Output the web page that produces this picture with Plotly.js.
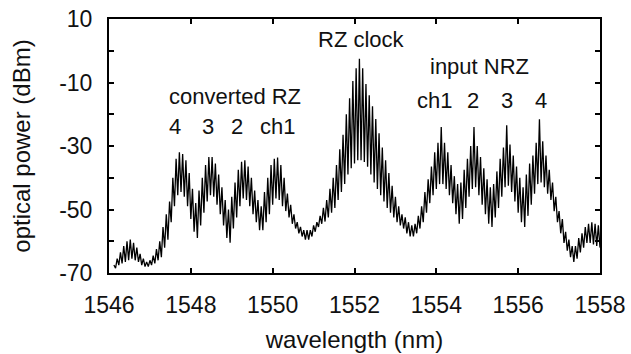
<!DOCTYPE html>
<html>
<head>
<meta charset="utf-8">
<script src="https://cdn.plot.ly/plotly-3.0.1.min.js"></script>
<style>html,body{margin:0;padding:0;background:#fff;}#chart{width:631px;height:354px;}</style>
</head>
<body>
<div id="chart"></div>
<script>
// Comb line (peak) wavelengths in nm
const peakNm = [
1546.12,1546.20,1546.28,1546.36,1546.44,1546.52,1546.60,1546.68,1546.76,1546.84,
1546.92,1547.00,1547.08,1547.16,1547.24,1547.32,1547.40,1547.48,1547.56,1547.64,
1547.72,1547.80,1547.88,1547.96,1548.04,1548.12,1548.20,1548.28,1548.36,1548.44,
1548.52,1548.60,1548.68,1548.76,1548.84,1548.92,1549.00,1549.08,1549.16,1549.24,
1549.32,1549.40,1549.48,1549.56,1549.64,1549.72,1549.80,1549.88,1549.96,1550.04,
1550.12,1550.20,1550.28,1550.36,1550.44,1550.52,1550.60,1550.68,1550.76,1550.84,
1550.92,1551.00,1551.08,1551.16,1551.24,1551.32,1551.40,1551.48,1551.56,1551.64,
1551.72,1551.80,1551.88,1551.96,1552.04,1552.12,1552.20,1552.28,1552.36,1552.44,
1552.52,1552.60,1552.68,1552.76,1552.84,1552.92,1553.00,1553.08,1553.16,1553.24,
1553.32,1553.40,1553.48,1553.56,1553.64,1553.72,1553.80,1553.88,1553.96,1554.04,
1554.12,1554.20,1554.28,1554.36,1554.44,1554.52,1554.60,1554.68,1554.76,1554.84,
1554.92,1555.00,1555.08,1555.16,1555.24,1555.32,1555.40,1555.48,1555.56,1555.64,
1555.72,1555.80,1555.88,1555.96,1556.04,1556.12,1556.20,1556.28,1556.36,1556.44,
1556.52,1556.60,1556.68,1556.76,1556.84,1556.92,1557.00,1557.08,1557.16,1557.24,
1557.32,1557.40,1557.48,1557.56,1557.64,1557.72,1557.80,1557.88,1557.96];

// Power at each comb line (dBm)
const peakDbm = [
-67.5,-65.5,-63.5,-61.5,-60,-59.5,-60.5,-62,-64,-65.5,
-66.5,-66,-64.5,-62.5,-60,-55.5,-51.5,-47.5,-40,-34,
-32,-32.5,-34.5,-38.5,-43.5,-48,-44,-40,-36,-33.5,
-33.5,-35.5,-39,-43,-47,-50,-46,-41.5,-37.5,-35,
-34.5,-36.5,-40,-44,-47,-49,-44.5,-40,-36,-34,
-33.6,-36,-40,-45,-48.5,-51.5,-54,-55.5,-56.5,-56.5,
-56.5,-55,-54,-52,-49.5,-47,-43.5,-40,-36,-31,
-26.5,-20,-15,-9.5,-5.5,-2.5,-5.5,-10.5,-14,-17.5,
-21.5,-26,-30.5,-34.5,-38.5,-42.5,-46,-49,-51.5,-52.5,
-54,-55,-54.5,-52,-49,-44.5,-40.5,-36.5,-32,-29,
-24,-29,-32,-36,-39.5,-42,-41.5,-37.5,-34,-30,
-24,-30,-33.5,-37,-40.5,-43,-42,-38,-34,-30.5,
-23.5,-29.5,-33,-36.5,-40,-43,-39,-35.5,-33,-29,
-21.6,-28.5,-33,-37.5,-41.5,-46,-50.5,-53,-57,-59.5,
-61.5,-61.5,-59,-57.5,-55.5,-54.5,-54,-54.5,-55];

// Wavelengths of the dips between comb lines (nm)
const dipNm = [
1546.16,1546.24,1546.32,1546.40,1546.48,1546.56,1546.64,1546.72,1546.80,1546.88,
1546.96,1547.04,1547.12,1547.20,1547.28,1547.36,1547.44,1547.52,1547.60,1547.68,
1547.76,1547.84,1547.92,1548.00,1548.08,1548.16,1548.24,1548.32,1548.40,1548.48,
1548.56,1548.64,1548.72,1548.80,1548.88,1548.96,1549.04,1549.12,1549.20,1549.28,
1549.36,1549.44,1549.52,1549.60,1549.68,1549.76,1549.84,1549.92,1550.00,1550.08,
1550.16,1550.24,1550.32,1550.40,1550.48,1550.56,1550.64,1550.72,1550.80,1550.88,
1550.96,1551.04,1551.12,1551.20,1551.28,1551.36,1551.44,1551.52,1551.60,1551.68,
1551.76,1551.84,1551.92,1552.00,1552.08,1552.16,1552.24,1552.32,1552.40,1552.48,
1552.56,1552.64,1552.72,1552.80,1552.88,1552.96,1553.04,1553.12,1553.20,1553.28,
1553.36,1553.44,1553.52,1553.60,1553.68,1553.76,1553.84,1553.92,1554.00,1554.08,
1554.16,1554.24,1554.32,1554.40,1554.48,1554.56,1554.64,1554.72,1554.80,1554.88,
1554.96,1555.04,1555.12,1555.20,1555.28,1555.36,1555.44,1555.52,1555.60,1555.68,
1555.76,1555.84,1555.92,1556.00,1556.08,1556.16,1556.24,1556.32,1556.40,1556.48,
1556.56,1556.64,1556.72,1556.80,1556.88,1556.96,1557.04,1557.12,1557.20,1557.28,
1557.36,1557.44,1557.52,1557.60,1557.68,1557.76,1557.84,1557.92,1558.00];

// Power at each dip (dBm)
const dipDbm = [
-68.5,-67.5,-67,-66.5,-66,-65.5,-66,-66.5,-67.5,-68,
-68,-67.5,-67,-66,-65,-62,-59.5,-54,-49,-45.5,
-44.5,-46,-49,-53,-57,-59,-55,-51,-47.5,-45.5,
-46,-48.5,-51.5,-55,-59,-60.5,-56,-52.5,-49,-46.5,
-47,-49,-51.5,-54,-56.5,-56.5,-54,-51.5,-48.5,-46.5,
-47,-49,-50.5,-52.5,-54.5,-56,-57.5,-58.5,-59.5,-59.5,
-58.5,-57,-55.5,-54.5,-53.8,-52.5,-51,-49.5,-47,-44.5,
-42,-39,-37,-35.5,-34.5,-34.5,-35,-36.5,-39,-41.5,
-43.5,-45.5,-47.5,-49.5,-51,-52.5,-54,-55,-56,-57.5,
-58.5,-58.5,-57.5,-56,-54,-51,-48,-45.5,-43.5,-42,
-42,-43.5,-45.5,-48,-51.5,-54.5,-53,-49.5,-46,-43.5,
-43,-45.5,-48.5,-51.5,-54.5,-55.5,-52.5,-49.5,-46,-43,
-42.5,-44.5,-47.5,-51,-54,-55.5,-52,-48.5,-45,-42,
-41.5,-43,-45,-47,-50.5,-54,-57.5,-60.5,-63,-65,
-66.5,-65.5,-63.5,-62,-60.5,-60.5,-61,-61.5,-62];

// Axis tick labels
const xTickVals = [1546, 1548, 1550, 1552, 1554, 1556, 1558];
const xTickText = ['1546', '1548', '1550', '1552', '1554', '1556', '1558'];
const yTickVals = [10, -10, -30, -50, -70];
const yTickText = ['10', '-10', '-30', '-50', '-70'];
const yMinorVals = [0, -20, -40, -60];

// Annotation texts
const rzChannels = ['4', '3', '2', 'ch1'];
const rzChannelNm = [1547.62, 1548.41, 1549.13, 1550.13];
const nrzChannels = ['ch1', '2', '3', '4'];
const nrzChannelNm = [1553.96, 1554.89, 1555.72, 1556.56];

// Interleave comb peaks and dips into one trace
const xs = [], ys = [];
for (let i = 0; i < peakNm.length; i++) {
  xs.push(peakNm[i]); ys.push(peakDbm[i]);
  if (i < dipNm.length) { xs.push(dipNm[i]); ys.push(dipDbm[i]); }
}

const FONT = 'Liberation Sans, Arial, Helvetica, sans-serif';
const TXT = '#111';

const annots = [];
annots.push({x: 1549.08, y: -14.3, text: 'converted RZ'});
rzChannels.forEach((t, i) => annots.push({x: rzChannelNm[i], y: -23.9, text: t}));
annots.push({x: 1552.17, y: 3.6, text: 'RZ clock'});
annots.push({x: 1555.06, y: -5.0, text: 'input NRZ'});
nrzChannels.forEach((t, i) => annots.push({x: nrzChannelNm[i], y: -15.8, text: t}));
annots.forEach(a => Object.assign(a, {xref: 'x', yref: 'y', showarrow: false,
  xanchor: 'center', yanchor: 'middle', font: {family: FONT, size: 22, color: TXT}}));

const trace = {
  x: xs, y: ys, type: 'scatter', mode: 'lines',
  line: {color: '#000', width: 1.3}, hoverinfo: 'skip'
};

const layout = {
  width: 631, height: 354,
  margin: {l: 109, r: 31, t: 19, b: 81},
  paper_bgcolor: '#fff', plot_bgcolor: '#fff',
  showlegend: false,
  font: {family: FONT, color: TXT},
  xaxis: {
    range: [1546, 1558], tickmode: 'array', tickvals: xTickVals, ticktext: xTickText,
    ticks: 'inside', ticklen: 5, tickwidth: 2, tickcolor: '#000',
    showline: true, linewidth: 2, linecolor: '#000', mirror: 'ticks',
    showgrid: false, zeroline: false,
    tickfont: {family: FONT, size: 23, color: TXT},
    ticklabelstandoff: 10,
    title: {text: 'wavelength (nm)', font: {family: FONT, size: 24, color: TXT}, standoff: 15}
  },
  yaxis: {
    range: [-70, 10], tickmode: 'array', tickvals: yTickVals, ticktext: yTickText,
    ticks: 'inside', ticklen: 5, tickwidth: 2, tickcolor: '#000',
    minor: {tickvals: yMinorVals, ticks: 'inside', ticklen: 5, tickwidth: 2, tickcolor: '#000', showgrid: false},
    showline: true, linewidth: 2, linecolor: '#000', mirror: 'ticks',
    showgrid: false, zeroline: false,
    tickfont: {family: FONT, size: 23, color: TXT},
    ticklabelstandoff: 10,
    title: {text: 'optical power (dBm)', font: {family: FONT, size: 24, color: TXT}, standoff: 22}
  },
  annotations: annots
};

Plotly.newPlot('chart', [trace], layout, {staticPlot: true, displayModeBar: false});
</script>
</body>
</html>
